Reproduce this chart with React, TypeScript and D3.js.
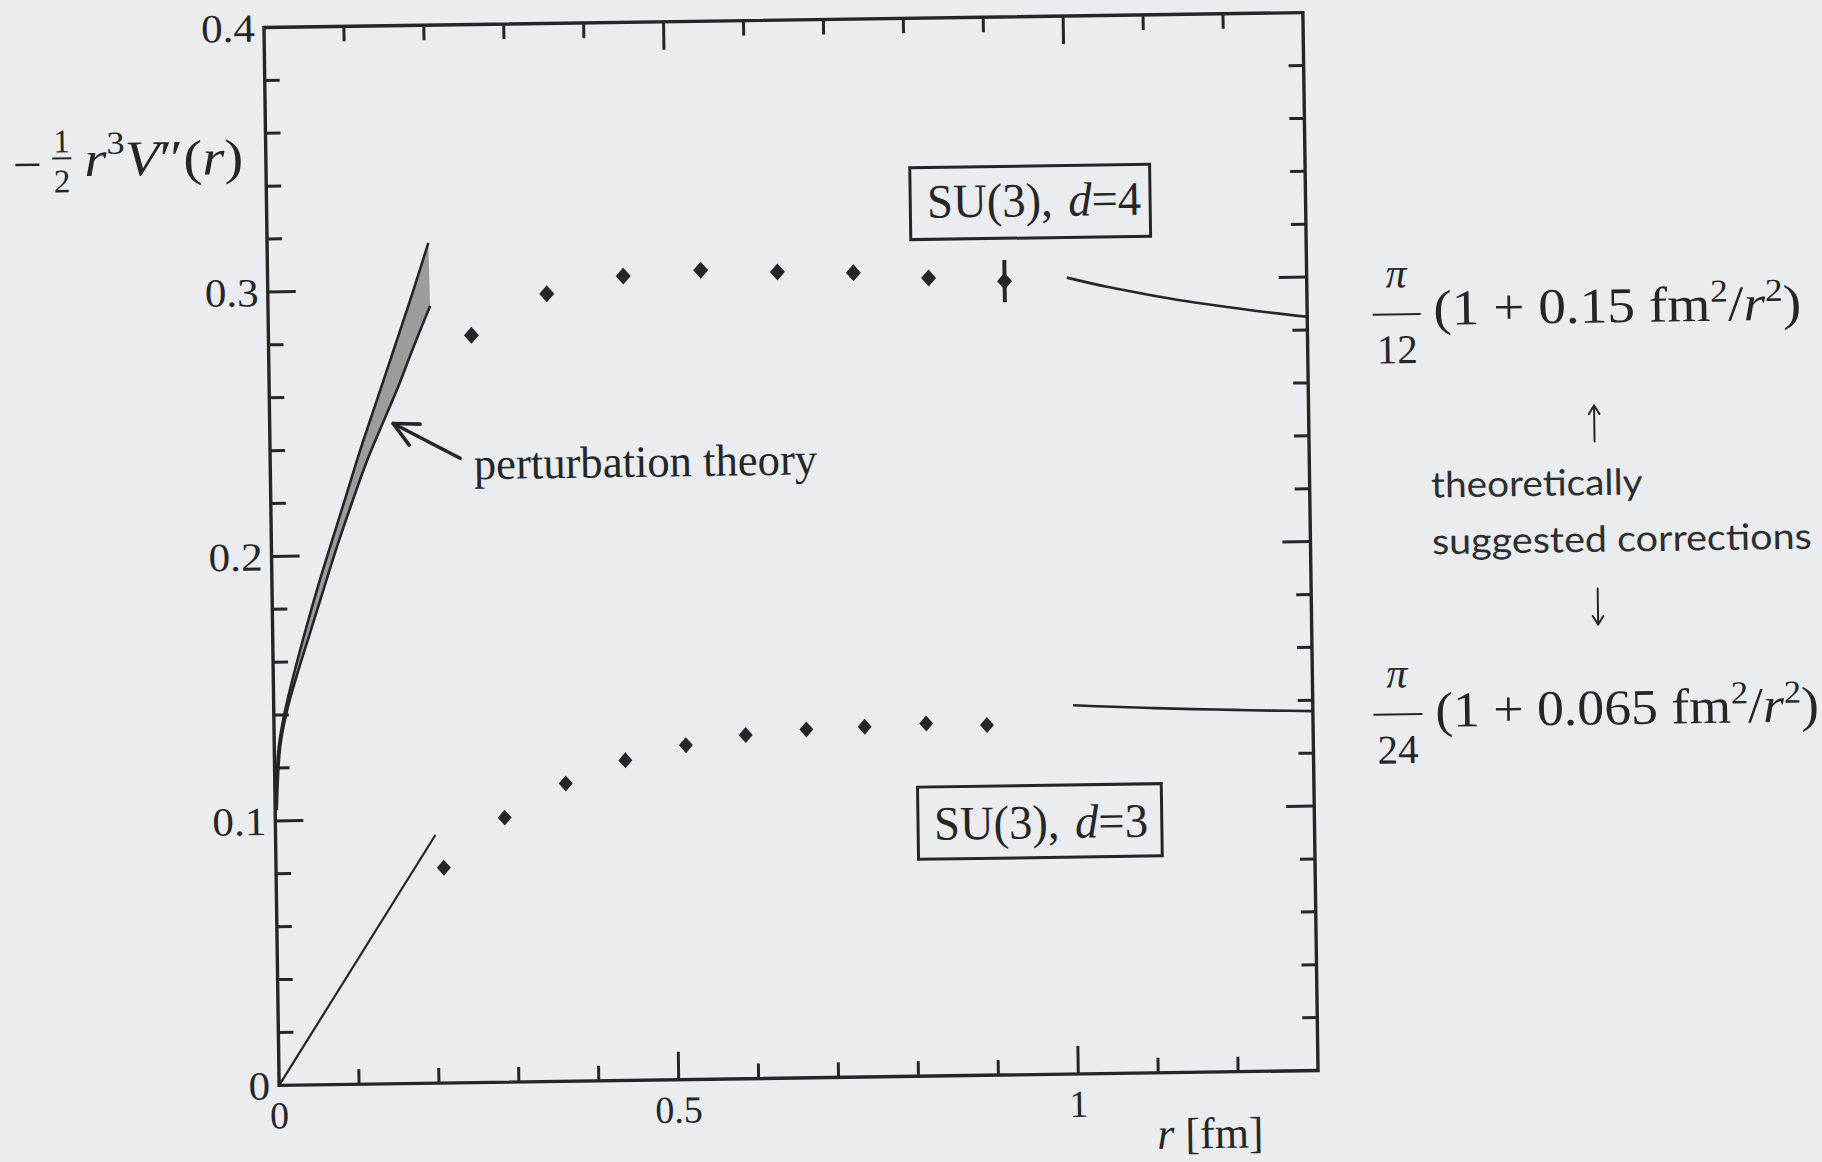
import React, { useLayoutEffect, useRef, useState } from 'react';
import * as d3 from 'd3';

const W = 1822;
const H = 1162;
const BG = '#eaecef';
const INK = '#262626';
const SERIF = "'Liberation Serif', 'Times New Roman', serif";
const SANS = "Lato, 'Open Sans', sans-serif";

// Lattice results, SU(3) in d=4
const rD4 = [0.254, 0.349, 0.445, 0.542, 0.638, 0.733, 0.827, 0.922];
const fD4 = [0.2825, 0.2978, 0.3041, 0.3059, 0.3048, 0.3041, 0.3017, 0.3001];
const errD4 = [0, 0, 0, 0, 0, 0, 0, 0.008];

// Lattice results, SU(3) in d=3
const rD3 = [0.21, 0.287, 0.364, 0.439, 0.515, 0.59, 0.666, 0.739, 0.816, 0.892];
const fD3 = [0.0814, 0.1, 0.1126, 0.121, 0.1264, 0.1299, 0.1317, 0.1324, 0.1333, 0.1324];

// Perturbative band (d=4): left/upper edge, from small r upwards
const ptUpperR = [0.001, 0.005, 0.0119, 0.0252, 0.0428, 0.0603, 0.0777, 0.0952, 0.1126, 0.1344, 0.1561, 0.1778, 0.2018];
const ptUpperF = [0.107, 0.1265, 0.1386, 0.1547, 0.1736, 0.1911, 0.2072, 0.2233, 0.2395, 0.2583, 0.2771, 0.2959, 0.3177];
// right/lower edge, from the top end back down
const ptLowerR = [0.2028, 0.1812, 0.1597, 0.1381, 0.1208, 0.0991, 0.0817, 0.0642, 0.0468, 0.0294, 0.0163, 0.0073, 0.002];
const ptLowerF = [0.2938, 0.2783, 0.2622, 0.2475, 0.2354, 0.2179, 0.2031, 0.187, 0.1709, 0.1548, 0.1413, 0.1278, 0.104];

// Perturbative line (d=3)
const ptD3R = [0, 0.2];
const ptD3F = [0, 0.0938];

// Large-r correction curves
const corrR = [1.0, 1.05, 1.1, 1.15, 1.2, 1.25, 1.3];
const corrD4 = [0.3011, 0.2974, 0.2943, 0.2915, 0.2891, 0.2869, 0.285];
const corrD3 = [0.1394, 0.1386, 0.1379, 0.1373, 0.1368, 0.1363, 0.1359];

// Axes
const xLabelValues = [0, 0.5, 1];
const xLabelTexts = ['0', '0.5', '1'];
const yLabelValues = [0, 0.1, 0.2, 0.3, 0.4];
const yLabelTexts = ['0', '0.1', '0.2', '0.3', '0.4'];

// Frame geometry
const L = 271.5;
const T = 20;
const PW = 1039;
const PH = 1058;
const ROT = -0.82;
const CX = 791;
const CY = 549;

type FitProps = {
  x: number;
  y: number;
  width: number;
  anchor?: 'start' | 'middle' | 'end';
  children: React.ReactNode;
  [k: string]: any;
};

// Text whose horizontal extent is stretched to a given width
function FitText({ x, y, width, anchor = 'start', children, ...rest }: FitProps) {
  const ref = useRef<SVGTextElement>(null);
  const [s, setS] = useState(1);
  useLayoutEffect(() => {
    if (ref.current) {
      const w = ref.current.getBBox().width;
      if (w > 0) setS(width / w);
    }
  }, [width]);
  return (
    <g transform={`translate(${x},${y}) scale(${s},1)`}>
      <text ref={ref} x={0} y={0} textAnchor={anchor} {...rest}>
        {children}
      </text>
    </g>
  );
}

function Arrow({ x1, y1, x2, y2, head, spread, width }: { x1: number; y1: number; x2: number; y2: number; head: number; spread: number; width: number }) {
  const a = Math.atan2(y1 - y2, x1 - x2);
  const s = (spread * Math.PI) / 180;
  const b1 = [x2 + head * Math.cos(a - s), y2 + head * Math.sin(a - s)];
  const b2 = [x2 + head * Math.cos(a + s), y2 + head * Math.sin(a + s)];
  return (
    <g stroke={INK} strokeWidth={width} fill="none" strokeLinecap="round" strokeLinejoin="round">
      <line x1={x1} y1={y1} x2={x2} y2={y2} />
      <path d={`M${b1[0]},${b1[1]} L${x2},${y2} L${b2[0]},${b2[1]}`} />
    </g>
  );
}

export default function App() {
  const x = d3.scaleLinear().domain([0, 1.3]).range([L, L + PW]);
  const y = d3.scaleLinear().domain([0, 0.4]).range([T + PH, T]);

  const smooth = d3
    .line<[number, number]>()
    .x((d) => x(d[0]))
    .y((d) => y(d[1]))
    .curve(d3.curveCatmullRom.alpha(0.5));
  const straight = d3
    .line<[number, number]>()
    .x((d) => x(d[0]))
    .y((d) => y(d[1]));

  const upperPts = ptUpperR.map((r, i) => [r, ptUpperF[i]] as [number, number]);
  const lowerPts = ptLowerR.map((r, i) => [r, ptLowerF[i]] as [number, number]);
  const upperPath = smooth(upperPts) || '';
  const lowerPath = smooth(lowerPts) || '';
  const bandPath = upperPath + 'L' + lowerPath.slice(1) + 'Z';

  const d3Line = straight(ptD3R.map((r, i) => [r, ptD3F[i]] as [number, number])) || '';
  const corrD4Path = smooth(corrR.map((r, i) => [r, corrD4[i]] as [number, number])) || '';
  const corrD3Path = smooth(corrR.map((r, i) => [r, corrD3[i]] as [number, number])) || '';

  const xMinor = d3.range(1, 13).map((i) => ({ v: i / 10, major: i % 5 === 0 }));
  const yMinor = d3.range(1, 20).map((i) => ({ v: i * 0.02, major: i % 5 === 0 }));
  const MAJ = 28;
  const MIN = 15;

  const diamond = (cx: number, cy: number, w: number, h: number) =>
    `M${cx},${cy - h} L${cx + w},${cy} L${cx},${cy + h} L${cx - w},${cy} Z`;

  // Annotation anchors in data units
  const boxD4 = { r0: 0.8054, r1: 1.1055, f0: 0.3163, f1: 0.3435, tr: 0.8265, tf: 0.3245 };
  const boxD3 = { r0: 0.804, r1: 1.109, f0: 0.082, f1: 0.1093, tr: 0.824, tf: 0.0893 };
  const ptLabel = { r: 0.2547, f: 0.2281 };
  const ptArrow = { r0: 0.2377, f0: 0.2361, r1: 0.1545, f1: 0.2496 };

  return (
    <svg
      width={W}
      height={H}
      viewBox={`0 0 ${W} ${H}`}
      style={{ position: 'absolute', left: 0, top: 0, display: 'block', background: BG }}
    >
      <rect x={0} y={0} width={W} height={H} fill={BG} />
      <g transform={`rotate(${ROT} ${CX} ${CY})`}>
        {/* perturbative band, d=4 */}
        <path d={bandPath} fill="#9c9c9c" stroke="none" />
        <path d={upperPath} fill="none" stroke={INK} strokeWidth={2.6} />
        <path d={lowerPath} fill="none" stroke={INK} strokeWidth={2.6} />

        {/* perturbative line, d=3 */}
        <path d={d3Line} fill="none" stroke={INK} strokeWidth={2.2} />

        {/* correction curves */}
        <path d={corrD4Path} fill="none" stroke={INK} strokeWidth={2.6} />
        <path d={corrD3Path} fill="none" stroke={INK} strokeWidth={2.6} />

        {/* lattice data */}
        {rD4.map((r, i) => (
          <g key={`d4-${i}`}>
            {errD4[i] > 0 && (
              <line x1={x(r)} x2={x(r)} y1={y(fD4[i] - errD4[i])} y2={y(fD4[i] + errD4[i])} stroke={INK} strokeWidth={4} />
            )}
            <path d={diamond(x(r), y(fD4[i]), 7.5, 8.5)} fill={INK} />
          </g>
        ))}
        {rD3.map((r, i) => (
          <path key={`d3-${i}`} d={diamond(x(r), y(fD3[i]), 7, 8)} fill={INK} />
        ))}

        {/* frame */}
        <rect x={L} y={T} width={PW} height={PH} fill="none" stroke={INK} strokeWidth={3.4} />
        <g stroke={INK} strokeWidth={3}>
          {xMinor.map((t) => (
            <g key={`xt-${t.v}`}>
              <line x1={x(t.v)} x2={x(t.v)} y1={T + PH} y2={T + PH - (t.major ? MAJ : MIN)} />
              <line x1={x(t.v)} x2={x(t.v)} y1={T} y2={T + (t.major ? MAJ : MIN)} />
            </g>
          ))}
          {yMinor.map((t) => (
            <g key={`yt-${t.v}`}>
              <line x1={L} x2={L + (t.major ? MAJ : MIN)} y1={y(t.v)} y2={y(t.v)} />
              <line x1={L + PW} x2={L + PW - (t.major ? MAJ : MIN)} y1={y(t.v)} y2={y(t.v)} />
            </g>
          ))}
        </g>

        {/* tick labels */}
        <g fontFamily={SERIF} fill={INK}>
          {yLabelValues.map((v, i) => (
            <g key={`yl-${v}`} transform={`translate(${L - 9},${y(v) + 14}) scale(1.08,1)`}>
              <text x={0} y={0} textAnchor="end" fontSize={40}>
                {yLabelTexts[i]}
              </text>
            </g>
          ))}
          {xLabelValues.map((v, i) => (
            <text key={`xl-${v}`} x={x(v)} y={T + PH + 43} textAnchor="middle" fontSize={38}>
              {xLabelTexts[i]}
            </text>
          ))}
        </g>

        {/* axis titles */}
        <text x={1202} y={1154} textAnchor="middle" fontFamily={SERIF} fontSize={44} fill={INK}>
          <tspan fontStyle="italic">r</tspan>
          <tspan> [fm]</tspan>
        </text>

        <g fill={INK} fontFamily={SERIF}>
          <line x1={21} x2={45} y1={154} y2={154} stroke={INK} strokeWidth={2.6} />
          <text x={67.5} y={142} textAnchor="middle" fontSize={33}>1</text>
          <line x1={58} x2={77} y1={148} y2={148} stroke={INK} strokeWidth={2} />
          <text x={67.5} y={182} textAnchor="middle" fontSize={33}>2</text>
          <FitText x={90} y={166} width={159} fontSize={50}>
            <tspan fontStyle="italic">r</tspan>
            <tspan dy={-22} fontSize={32}>3</tspan>
            <tspan dy={22} fontStyle="italic">V</tspan>
            <tspan>″(</tspan>
            <tspan fontStyle="italic">r</tspan>
            <tspan>)</tspan>
          </FitText>
        </g>

        {/* in-plot labels */}
        <rect
          x={x(boxD4.r0)}
          y={y(boxD4.f1)}
          width={x(boxD4.r1) - x(boxD4.r0)}
          height={y(boxD4.f0) - y(boxD4.f1)}
          fill="none"
          stroke={INK}
          strokeWidth={3}
        />
        <FitText x={x(boxD4.tr)} y={y(boxD4.tf)} width={214} fontFamily={SERIF} fontSize={48} fill={INK}>
          <tspan>SU(3),</tspan>
          <tspan dx={16} fontStyle="italic">d</tspan>
          <tspan>=4</tspan>
        </FitText>
        <rect
          x={x(boxD3.r0)}
          y={y(boxD3.f1)}
          width={x(boxD3.r1) - x(boxD3.r0)}
          height={y(boxD3.f0) - y(boxD3.f1)}
          fill="none"
          stroke={INK}
          strokeWidth={3}
        />
        <FitText x={x(boxD3.tr)} y={y(boxD3.tf)} width={214} fontFamily={SERIF} fontSize={48} fill={INK}>
          <tspan>SU(3),</tspan>
          <tspan dx={16} fontStyle="italic">d</tspan>
          <tspan>=3</tspan>
        </FitText>

        <FitText x={x(ptLabel.r)} y={y(ptLabel.f)} width={344} fontFamily={SERIF} fontSize={45} fill={INK}>
          perturbation theory
        </FitText>
        <Arrow
          x1={x(ptArrow.r0)}
          y1={y(ptArrow.f0)}
          x2={x(ptArrow.r1)}
          y2={y(ptArrow.f1)}
          head={27}
          spread={26}
          width={3.6}
        />

        {/* formulas for the correction curves */}
        <g fill={INK} fontFamily={SERIF}>
          <text x={1400} y={296} textAnchor="middle" fontStyle="italic" fontSize={42}>π</text>
          <line x1={1376} x2={1424} y1={323} y2={323} stroke={INK} strokeWidth={2} />
          <text x={1400} y={372} textAnchor="middle" fontSize={41}>12</text>
          <FitText x={1436.6} y={334} width={368} fontSize={50}>
            <tspan>(1 + 0.15 fm</tspan>
            <tspan dy={-19} fontSize={32}>2</tspan>
            <tspan dy={19}>/</tspan>
            <tspan fontStyle="italic">r</tspan>
            <tspan dy={-19} fontSize={32}>2</tspan>
            <tspan dy={19}>)</tspan>
          </FitText>

          <text x={1395} y={696} textAnchor="middle" fontStyle="italic" fontSize={42}>π</text>
          <line x1={1371} x2={1420} y1={723} y2={723} stroke={INK} strokeWidth={2} />
          <text x={1395} y={772} textAnchor="middle" fontSize={41}>24</text>
          <FitText x={1432.8} y={736} width={384} fontSize={50}>
            <tspan>(1 + 0.065 fm</tspan>
            <tspan dy={-19} fontSize={32}>2</tspan>
            <tspan dy={19}>/</tspan>
            <tspan fontStyle="italic">r</tspan>
            <tspan dy={-19} fontSize={32}>2</tspan>
            <tspan dy={19}>)</tspan>
          </FitText>
        </g>

        <Arrow x1={1596} y1={453} x2={1596} y2={417} head={10} spread={32} width={2} />
        <FitText x={1432} y={506.6} width={212} fontFamily={SANS} fontSize={36} fill="#2e2e2e">
          theoretically
        </FitText>
        <FitText x={1432} y={563.3} width={380} fontFamily={SANS} fontSize={36} fill="#2e2e2e">
          suggested corrections
        </FitText>
        <Arrow x1={1597} y1={600} x2={1597} y2={636} head={10} spread={32} width={2} />
      </g>
    </svg>
  );
}
